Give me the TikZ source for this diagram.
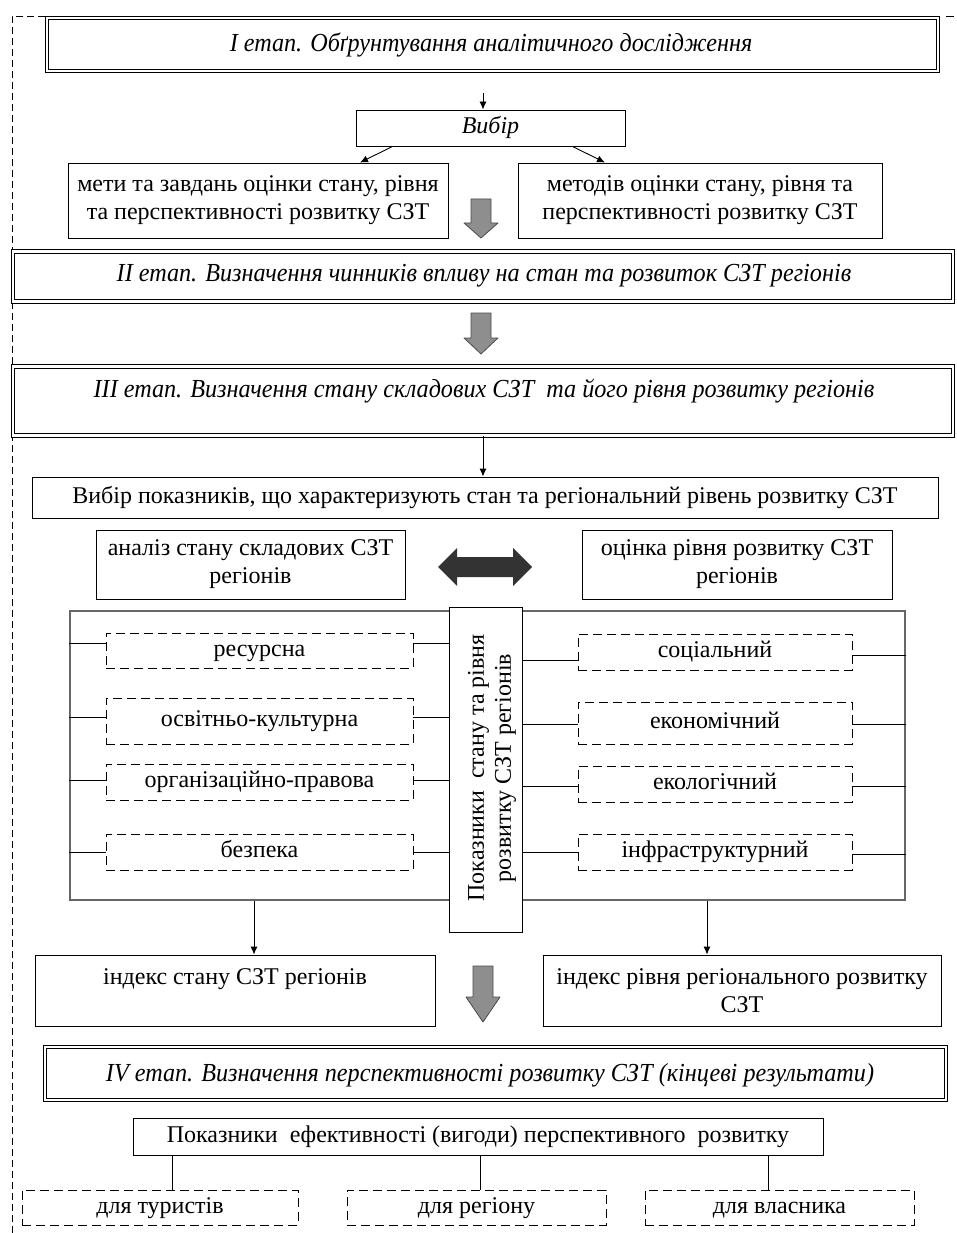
\documentclass[tikz,border=0pt]{standalone}
\usepackage{fontspec}
\setmainfont{Liberation Serif}
\usetikzlibrary{calc,arrows.meta}
\definecolor{arrowgray}{HTML}{8E8E8E}
\definecolor{arrowedge}{HTML}{4A4A4A}
\definecolor{darkarrow}{HTML}{333333}
\definecolor{framegray}{HTML}{666666}

% gray block arrow pointing down: #1 = x of axis, #2 = top y, #3 = y where the head starts, #4 = tip y
\newcommand\grayblockdown[4]{%
  \fill[arrowgray,draw=arrowedge,line width=0.8pt,line join=round]
    (#1-10,#2) -- (#1+10,#2) -- (#1+10,#3) -- (#1+17,#3) -- (#1,#4)
    -- (#1-17,#3) -- (#1-10,#3) -- cycle;}

\newcommand\stagelabel[1]{\scalebox{0.93}[1]{#1}}

\tikzset{
  box/.style={draw, line width=0.9pt, inner sep=2pt, align=center,
    font=\fontsize{24}{28}\selectfont},
  oneline/.style={text height=17pt, text depth=6pt},
  stagebox/.style={draw, double, double distance=2.2pt, line width=1pt,
    inner sep=0pt, align=center},
  stagetext/.style={font=\fontsize{26}{30}\selectfont\itshape, inner sep=0pt},
  dbox/.style={draw, dashed, dash pattern=on 9pt off 5pt, line width=0.9pt,
    inner sep=2pt, align=center, font=\fontsize{24}{28}\selectfont, oneline},
  link/.style={line width=0.9pt},
  arr/.style={line width=0.9pt, -{Latex[length=8pt,width=7pt]}},
}

\begin{document}
\begin{tikzpicture}[x=1pt,y=-1pt]
\useasboundingbox (0,0) rectangle (957,1233);

% vertical guide positions for connectors
\coordinate (xa) at (483,0);
\coordinate (xl) at (254,0);
\coordinate (xr) at (707,0);
\coordinate (xb1) at (172,0);
\coordinate (xb2) at (480,0);
\coordinate (xb3) at (768,0);

% outer dashed frame
\draw[dashed, dash pattern=on 7pt off 4pt, line width=0.8pt] (45,16) -- (12,16) -- (12,1233);
\draw[line width=0.8pt] (946,16) -- (954,16);

% stage I
\node[stagebox, minimum width=891, minimum height=53] (s1) at (492.5,44.5) {};
\node[stagetext] (s1t) at (491,45) {\stagelabel{I етап. Обґрунтування аналітичного дослідження}};

\node[box, oneline, minimum width=269, minimum height=36] (vyb) at (490.5,128)
  {\itshape Вибір};
\coordinate (s1out) at (483,93);
\draw[arr] (s1out) -- (s1out |- vyb.north);

\node[box, minimum width=380, minimum height=75] (goal) at (258,200.5)
  {мети та завдань оцінки стану, рівня\\ та перспективності розвитку СЗТ};
\node[box, minimum width=364, minimum height=75] (meth) at (700,200.5)
  {методів оцінки стану, рівня та\\ перспективності розвитку СЗТ};
\draw[arr] ([xshift=-98]vyb.south) -- ([xshift=102]goal.north);
\draw[arr] ([xshift=82]vyb.south) -- ([xshift=-95]meth.north);

\grayblockdown{481}{199}{223}{238}

% stage II
\node[stagebox, minimum width=940, minimum height=50] (s2) at (483,276.5) {};
\node[stagetext] (s2t) at (484,276) {\stagelabel{II етап. Визначення чинників впливу на стан та розвиток СЗТ регіонів}};

\grayblockdown{481}{313}{338}{354}

% stage III
\node[stagebox, minimum width=940, minimum height=69] (s3) at (483,401) {};
\node[stagetext] (s3t) at (484,391) {\stagelabel{III етап. Визначення стану складових СЗТ\ \ та його рівня розвитку регіонів}};

\node[box, oneline, minimum width=906, minimum height=41] (sel) at (485,497.5)
  {Вибір показників, що характеризують стан та регіональний рівень розвитку СЗТ};
\draw[arr] (s3.south -| xa) -- (sel.north -| xa);

\node[box, minimum width=309, minimum height=69] (anl) at (250.5,564.5)
  {аналіз стану складових СЗТ\\ регіонів};
\node[box, minimum width=310, minimum height=69] (ocn) at (737,564.5)
  {оцінка рівня розвитку СЗТ\\ регіонів};

% two-way arrow between the two analyses
\fill[darkarrow,line join=round]
  (438,567) -- (457,548) -- (457,557) -- (513,557) -- (513,548) -- (532,567)
  -- (513,586) -- (513,577) -- (457,577) -- (457,586) -- cycle;

% indicator frame
\node[draw=framegray, line width=1.6pt, minimum width=835, minimum height=289,
  inner sep=0pt] (frm) at (487.5,755.5) {};
\node[draw, fill=white, line width=0.9pt, minimum width=73, minimum height=325,
  inner sep=0pt] (vbox) at (485.5,769.5) {};
\node[rotate=90, align=center, inner sep=0pt,
  font=\fontsize{24}{27}\selectfont] (vboxt) at (492,768)
  {Показники\ \ стану та рівня\\ розвитку СЗТ регіонів};

% component blocks (left)
\node[dbox, minimum width=307, minimum height=35] (res) at (259.5,650.5) {ресурсна};
\node[dbox, minimum width=307, minimum height=46] (osv) at (259.5,721) {освітньо-культурна};
\node[dbox, minimum width=307, minimum height=36] (org) at (259.5,782) {організаційно-правова};
\node[dbox, minimum width=307, minimum height=36] (bez) at (259.5,852) {безпека};
% component blocks (right)
\node[dbox, minimum width=274, minimum height=36] (soc) at (715,652) {соціальний};
\node[dbox, minimum width=274, minimum height=42] (eco) at (715,723) {економічний};
\node[dbox, minimum width=274, minimum height=36] (ekl) at (715,784) {екологічний};
\node[dbox, minimum width=274, minimum height=36] (inf) at (715,852) {інфраструктурний};

\foreach \n/\dy in {res/-7, osv/-4, org/-2, bez/0} {
  \draw[link] ([yshift=-\dy]\n.west) -- ([yshift=-\dy]\n.west -| frm.west);
  \draw[link] ([yshift=-\dy]\n.east) -- ([yshift=-\dy]\n.east -| vbox.west);
}
\foreach \n/\dl/\dr in {soc/8/3, eco/1/1, ekl/2/2, inf/0/2} {
  \draw[link] ([yshift=-\dl]\n.west) -- ([yshift=-\dl]\n.west -| vbox.east);
  \draw[link] ([yshift=-\dr]\n.east) -- ([yshift=-\dr]\n.east -| frm.east);
}

% indices
\node[box, minimum width=400, minimum height=71] (idx1) at (235,990.5)
  {індекс стану СЗТ регіонів\\ \mbox{}};
\node[box, minimum width=398, minimum height=71] (idx2) at (742,990.5)
  {індекс рівня регіонального розвитку\\ СЗТ};
\draw[arr] (frm.south -| xl) -- (idx1.north -| xl);
\draw[arr] (frm.south -| xr) -- (idx2.north -| xr);

\grayblockdown{483}{966}{997}{1022}

% stage IV
\node[stagebox, minimum width=901, minimum height=53] (s4) at (495.5,1073.5) {};
\node[stagetext] (s4t) at (490,1075) {\stagelabel{IV етап. Визначення перспективності розвитку СЗТ (кінцеві результати)}};

\node[box, oneline, minimum width=690, minimum height=37] (eff) at (478,1136.5)
  {Показники\ \ ефективності (вигоди) перспективного\ \ розвитку};

\node[dbox, minimum width=276, minimum height=35] (b1) at (160,1207.5)
  {для туристів};
\node[dbox, minimum width=259, minimum height=35] (b2) at (476.5,1207.5)
  {для регіону};
\node[dbox, minimum width=269, minimum height=35] (b3) at (779.5,1207.5)
  {для власника};
\draw[link] (eff.south -| xb1) -- (b1.north -| xb1);
\draw[link] (eff.south -| xb2) -- (b2.north -| xb2);
\draw[link] (eff.south -| xb3) -- (b3.north -| xb3);
\end{tikzpicture}
\end{document}
